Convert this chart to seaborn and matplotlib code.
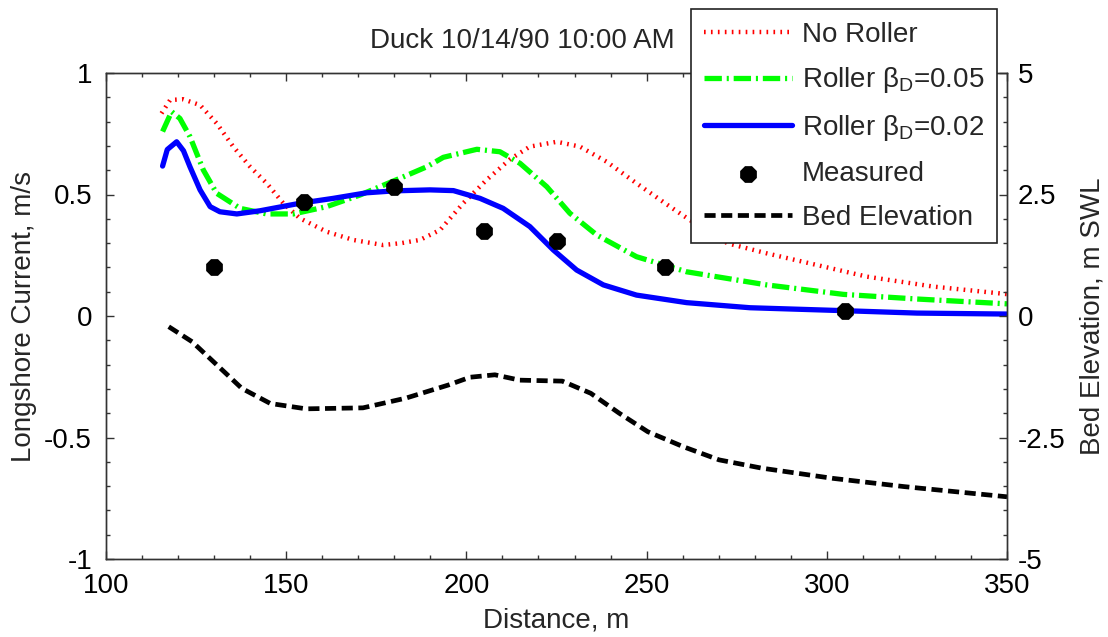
import numpy as np
import pandas as pd
import matplotlib
matplotlib.use("Agg")
import matplotlib.pyplot as plt
import seaborn as sns
from matplotlib.ticker import MultipleLocator, FuncFormatter

# values
red_x = [115.4, 117.8, 121.4, 126.1, 130.7, 135.3, 140.0, 144.6, 149.2, 153.8, 161.2, 168.6,
         176.9, 182.0, 187.1, 192.7, 199.1, 205.6, 212.1, 217.6, 225.1, 231.5, 238.9, 247.2,
         256.5, 262.0, 272.5, 283.3, 297.2, 311.1, 329.6, 350.0]
red_y = [0.834, 0.889, 0.892, 0.868, 0.793, 0.697, 0.614, 0.546, 0.464, 0.402, 0.347, 0.313,
         0.292, 0.300, 0.313, 0.354, 0.464, 0.560, 0.645, 0.697, 0.717, 0.697, 0.635, 0.546,
         0.450, 0.395, 0.299, 0.258, 0.210, 0.162, 0.121, 0.090]

green_x = [115.7, 118.2, 120.5, 123.3, 127.0, 130.7, 137.2, 144.6, 152.0, 161.2, 170.5, 181.6,
           189.0, 193.6, 202.9, 209.3, 214.9, 222.3, 228.7, 236.2, 247.2, 261.1, 283.3, 304.6,
           324.9, 350.0]
green_y = [0.759, 0.841, 0.813, 0.738, 0.601, 0.505, 0.443, 0.420, 0.420, 0.450, 0.498, 0.567,
           0.614, 0.653, 0.686, 0.676, 0.628, 0.532, 0.423, 0.333, 0.244, 0.182, 0.128, 0.089,
           0.070, 0.050]

blue_x = [115.7, 117.0, 119.6, 121.5, 123.3, 126.1, 128.9, 131.6, 136.3, 142.7, 153.8, 163.0,
          172.3, 180.0, 189.9, 196.4, 203.8, 210.2, 217.6, 224.1, 230.6, 238.0, 247.2, 261.1,
          278.7, 304.6, 325.0, 350.0]
blue_y = [0.617, 0.685, 0.717, 0.680, 0.614, 0.519, 0.450, 0.429, 0.420, 0.433, 0.464, 0.484,
          0.507, 0.515, 0.519, 0.516, 0.484, 0.443, 0.368, 0.272, 0.189, 0.128, 0.086, 0.055,
          0.034, 0.022, 0.012, 0.008]

meas_x = [130, 155, 180, 205, 225, 255, 305]
meas_y = [0.20, 0.47, 0.53, 0.35, 0.31, 0.20, 0.02]

bed_x = [117.4, 123.9, 129.8, 137.7, 145.6, 155.5, 171.3, 183.2, 195.0, 201.0, 207.9, 214.8,
         226.6, 234.5, 242.4, 250.3, 260.2, 270.1, 281.9, 301.6, 321.4, 350.0]
bed_y = [-0.22, -0.53, -0.94, -1.49, -1.80, -1.91, -1.89, -1.69, -1.42, -1.26, -1.21, -1.32,
         -1.34, -1.59, -2.00, -2.38, -2.69, -2.96, -3.13, -3.34, -3.51, -3.72]

labels = ["No Roller", "Roller β$_\\mathregular{D}$=0.05", "Roller β$_\\mathregular{D}$=0.02",
          "Measured", "Bed Elevation"]

sns.set_theme(style="white")
plt.rcParams["font.family"] = ["Liberation Sans", "DejaVu Sans"]
plt.rcParams["axes.unicode_minus"] = False
plt.rcParams["lines.scale_dashes"] = False
plt.rcParams["mathtext.fontset"] = "custom"
plt.rcParams["mathtext.rm"] = "Liberation Sans"

FS = 20
fig = plt.figure(figsize=(11.08, 6.37), dpi=100)
ax = fig.add_axes([106 / 1108, 1 - 559 / 637, 901 / 1108, 486 / 637])
ax2 = ax.twinx()

sns.lineplot(x=red_x, y=red_y, ax=ax, color="#ff0000", lw=3.2, sort=False,
             dashes=False, label=labels[0], legend=False)
ax.lines[-1].set_dashes((1.2, 3.8))
ax.lines[-1].set_dash_capstyle("butt")
sns.lineplot(x=green_x, y=green_y, ax=ax, color="#00ff00", lw=3.8, sort=False,
             label=labels[1], legend=False)
ax.lines[-1].set_dashes((12.5, 3.5, 1.5, 3.5))
sns.lineplot(x=blue_x, y=blue_y, ax=ax, color="#0000ff", lw=3.8, sort=False,
             label=labels[2], legend=False)
sns.scatterplot(x=meas_x, y=meas_y, ax=ax, color="black", marker="8", s=170,
                edgecolor="black", linewidth=0, zorder=5, label=labels[3], legend=False)
sns.lineplot(x=bed_x, y=bed_y, ax=ax2, color="black", lw=3.4, sort=False,
             label=labels[4], legend=False)
ax2.lines[-1].set_dashes((8, 4))

fmt = FuncFormatter(lambda v, p: "%g" % v)
ax.set_xlim(100, 350)
ax.set_ylim(-1, 1)
ax2.set_ylim(-5, 5)
ax.xaxis.set_major_locator(MultipleLocator(50))
ax.xaxis.set_minor_locator(MultipleLocator(10))
ax.yaxis.set_major_locator(MultipleLocator(0.5))
ax.yaxis.set_minor_locator(MultipleLocator(0.1))
ax2.yaxis.set_major_locator(MultipleLocator(2.5))
ax2.yaxis.set_minor_locator(MultipleLocator(0.5))
ax.yaxis.set_major_formatter(fmt)
ax2.yaxis.set_major_formatter(fmt)

for a in (ax, ax2):
    for s in a.spines.values():
        s.set_color("#333333")
        s.set_linewidth(1.0)
ax.tick_params(which="both", direction="in", top=True, right=False, left=True,
               bottom=True, colors="#333333", labelcolor="black", labelsize=FS, pad=10)
ax.tick_params(which="major", length=5.5, width=1)
ax.tick_params(which="minor", length=3, width=1)
ax2.tick_params(which="both", direction="in", right=True, colors="#333333",
                labelcolor="black", labelsize=FS, pad=8)
ax2.tick_params(which="major", length=5.5, width=1)
ax2.tick_params(which="minor", length=3, width=1)

ax.set_xlabel("Distance, m", fontsize=FS, labelpad=6)
ax.set_ylabel("Longshore Current, m/s", fontsize=FS, labelpad=5)
ax2.set_ylabel("Bed Elevation, m SWL", fontsize=FS, labelpad=10)

fig.text(522.5 / 1108, 1 - 48 / 637, "Duck 10/14/90 10:00 AM", fontsize=FS,
         ha="center", va="baseline")

h1, l1 = ax.get_legend_handles_labels()
h2, l2 = ax2.get_legend_handles_labels()
leg = ax2.legend(h1 + h2, l1 + l2, loc="upper left",
                 bbox_to_anchor=(691 / 1108, 1 - 9 / 637), bbox_transform=fig.transFigure,
                 fontsize=FS, frameon=True, fancybox=False, framealpha=1,
                 edgecolor="#222222", borderpad=0.45, labelspacing=0.64,
                 handlelength=3.2, handletextpad=0.35, borderaxespad=0, numpoints=1)
leg.get_frame().set_linewidth(1.2)
leg.set_zorder(20)

fig.savefig("out.png", dpi=100)
